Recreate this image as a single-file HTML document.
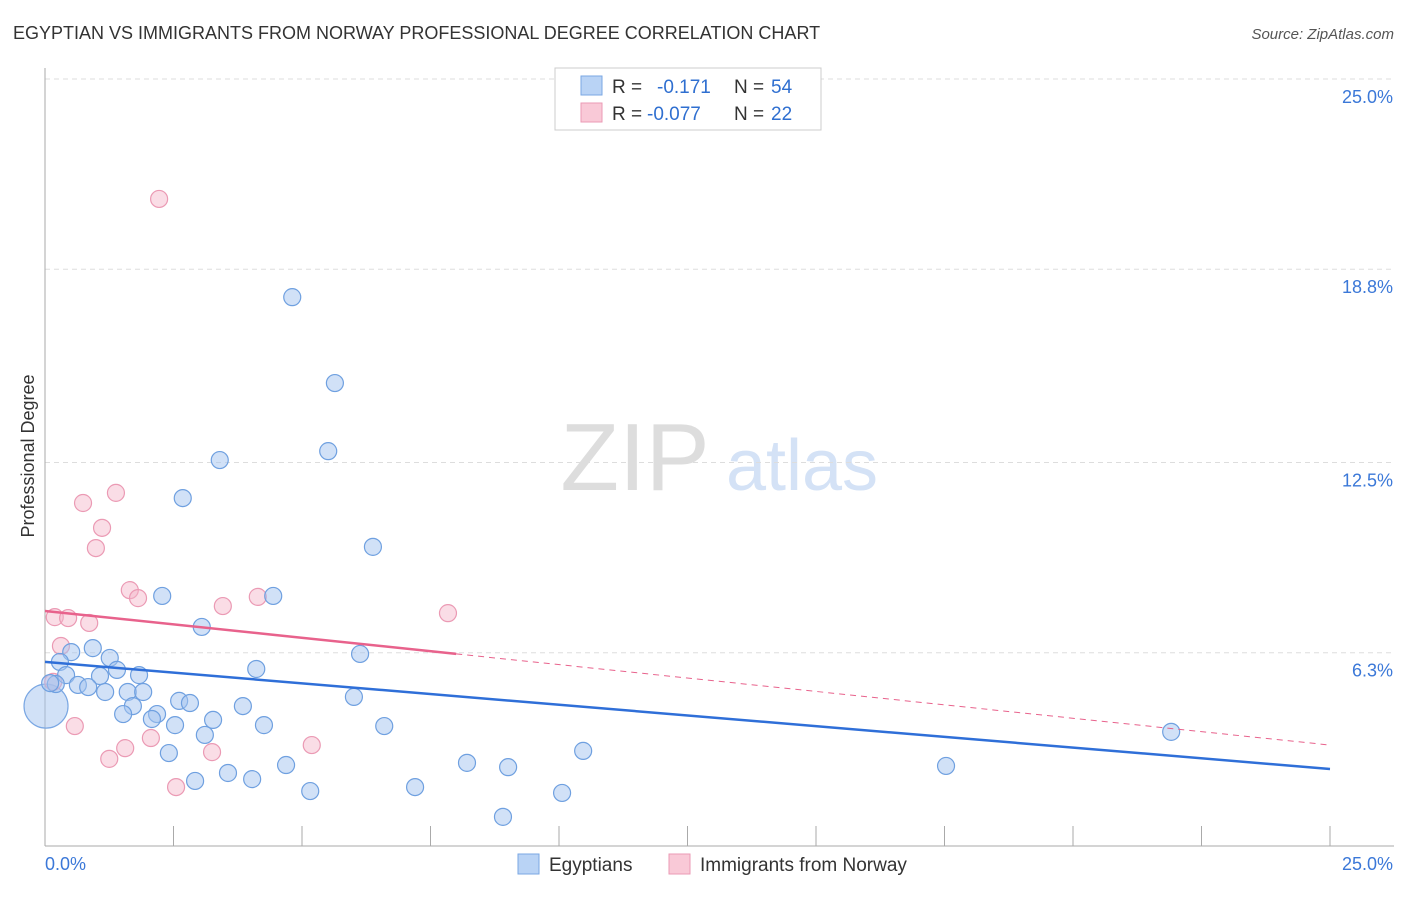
<!DOCTYPE html>
<html><head><meta charset="utf-8"><style>
body{margin:0;background:#fff;font-family:"Liberation Sans",sans-serif}
svg text{font-family:"Liberation Sans",sans-serif}
</style></head><body>
<svg id="c" width="1406" height="892" viewBox="0 0 1406 892">
<text x="13" y="39" font-size="18" fill="#333">EGYPTIAN VS IMMIGRANTS FROM NORWAY PROFESSIONAL DEGREE CORRELATION CHART</text>
<text x="1394" y="39" font-size="15" fill="#555" font-style="italic" text-anchor="end">Source: ZipAtlas.com</text>
<g>
<text x="635" y="490" font-size="96" fill="#ddd" font-family="Liberation Serif" text-anchor="middle">ZIP</text>
<text x="802" y="490" font-size="72" fill="#d4e2f6" text-anchor="middle">atlas</text>
</g>
<g id="grid"></g>
<g id="axes"></g>
<g id="marks"></g>
<text transform="translate(34,456) rotate(-90)" font-size="18" fill="#333" text-anchor="middle">Professional Degree</text>
<g>
<rect x="555" y="68" width="266" height="62" fill="#fff" stroke="#ccc"/>
<rect x="581" y="76" width="21" height="19" fill="#b9d3f5" stroke="#7aa7e3"/>
<rect x="581" y="103" width="21" height="19" fill="#f9c9d7" stroke="#eb9ab4"/>
<text x="612" y="93" font-size="19" fill="#333">R = </text><text x="657" y="93" font-size="19" fill="#2f6fd0">-0.171</text>
<text x="734" y="93" font-size="19" fill="#333">N = </text><text x="771" y="93" font-size="19" fill="#2f6fd0">54</text>
<text x="612" y="120" font-size="19" fill="#333">R = </text><text x="647" y="120" font-size="19" fill="#2f6fd0">-0.077</text>
<text x="734" y="120" font-size="19" fill="#333">N = </text><text x="771" y="120" font-size="19" fill="#2f6fd0">22</text>
</g>
<g>
<rect x="518" y="854" width="21" height="20" fill="#b9d3f5" stroke="#7aa7e3"/>
<text x="549" y="871" font-size="19" fill="#333">Egyptians</text>
<rect x="669" y="854" width="21" height="20" fill="#f9c9d7" stroke="#eb9ab4"/>
<text x="700" y="871" font-size="19" fill="#333">Immigrants from Norway</text>
</g>
</svg>
<script>
const yTicks=[25.0,18.8,12.5,6.3];
const yTickLabels=["25.0%","18.8%","12.5%","6.3%"];
const xLabels=["0.0%","25.0%"];
const blueX=[4.81,5.64,5.51,3.40,2.68,6.38,2.28,4.44,3.05,6.13,0.93,0.51,0.29,1.26,1.40,1.83,0.41,1.07,0.21,0.64,0.84,1.17,1.61,1.91,4.11,6.01,2.61,2.82,3.85,1.71,2.18,1.52,2.08,3.27,2.53,4.26,6.60,3.11,2.41,10.47,21.91,4.69,8.21,9.01,17.53,3.56,2.92,4.03,7.20,5.16,10.06,8.91,0.10];
const blueY=[17.89,15.09,12.87,12.58,11.34,9.75,8.15,8.15,7.14,6.26,6.45,6.32,6.00,6.13,5.74,5.57,5.57,5.54,5.28,5.25,5.18,5.02,5.02,5.02,5.77,4.86,4.73,4.66,4.56,4.56,4.30,4.30,4.14,4.11,3.94,3.94,3.91,3.62,3.03,3.10,3.72,2.64,2.71,2.57,2.61,2.38,2.12,2.18,1.92,1.79,1.73,0.95,5.31];
const bigX=[0.02], bigY=[4.56];
const pinkX=[2.22,1.38,0.74,1.11,0.99,1.65,1.81,3.46,4.14,7.84,0.19,0.45,0.86,0.31,0.16,0.58,1.56,2.06,3.25,1.25,2.55,5.19];
const pinkY=[21.09,11.51,11.18,10.37,9.71,8.34,8.08,7.82,8.12,7.59,7.46,7.43,7.27,6.52,5.35,3.91,3.19,3.52,3.06,2.84,1.92,3.29];
const blueTrend=[6.0,2.51];
const pinkTrend=[7.66,3.29];
const pinkSolidEnd=8.0;
const NS="http://www.w3.org/2000/svg";
const X=v=>45+v/25*1285, Y=v=>846-v/25*767;
function mk(tag,attrs,parent){const e=document.createElementNS(NS,tag);for(const k in attrs)e.setAttribute(k,attrs[k]);parent.appendChild(e);return e;}
const grid=document.getElementById('grid'),axes=document.getElementById('axes'),marks=document.getElementById('marks');
yTicks.forEach((t,i)=>{
 const l=mk('line',{x1:45,x2:1394,y1:Y(t),y2:Y(t),stroke:'#ddd','stroke-dasharray':'5,4'},grid);
 
 
 const tx=mk('text',{x:1393,y:Y(t)+24,'font-size':18,fill:'#3b78d8','text-anchor':'end'},axes);
 tx.textContent=yTickLabels[i];
 
 
});
mk('line',{x1:45,x2:45,y1:68,y2:846,stroke:'#aaa'},axes);
mk('line',{x1:45,x2:1394,y1:846,y2:846,stroke:'#aaa'},axes);
for(let i=0;i<=10;i++){mk('line',{x1:X(i*2.5),x2:X(i*2.5),y1:826,y2:846,stroke:'#aaa'},axes);}
const xl0=mk('text',{x:45,y:870,'font-size':18,fill:'#3b78d8'},axes);xl0.textContent=xLabels[0];


const xl1=mk('text',{x:1393,y:870,'font-size':18,fill:'#3b78d8','text-anchor':'end'},axes);xl1.textContent=xLabels[1];


function dot(x,y,r,fill,stroke,name){const c=mk('circle',{cx:X(x),cy:Y(y),r:r,fill:fill,stroke:stroke,'stroke-width':1.2},marks);
 
 }
bigX.forEach((x,i)=>dot(x,bigY[i],22,'rgba(164,196,240,0.5)','#7aa7e3','egyptian-point'));
pinkX.forEach((x,i)=>dot(x,pinkY[i],8.5,'rgba(245,180,200,0.45)','#eb9ab4','norway-point'));
blueX.forEach((x,i)=>dot(x,blueY[i],8.5,'rgba(164,196,240,0.5)','#6fa0e0','egyptian-point'));
const py=v=>pinkTrend[0]+(pinkTrend[1]-pinkTrend[0])*v/25;
const bl=mk('line',{x1:X(0),y1:Y(blueTrend[0]),x2:X(25),y2:Y(blueTrend[1]),stroke:'#2f6fd8','stroke-width':2.5},marks);


const ps=mk('line',{x1:X(0),y1:Y(pinkTrend[0]),x2:X(pinkSolidEnd),y2:Y(py(pinkSolidEnd)),stroke:'#e8628c','stroke-width':2.5},marks);


const pd=mk('line',{x1:X(pinkSolidEnd),y1:Y(py(pinkSolidEnd)),x2:X(25),y2:Y(pinkTrend[1]),stroke:'#e8628c','stroke-width':1,'stroke-dasharray':'6,5'},marks);


</script>
</body></html>
